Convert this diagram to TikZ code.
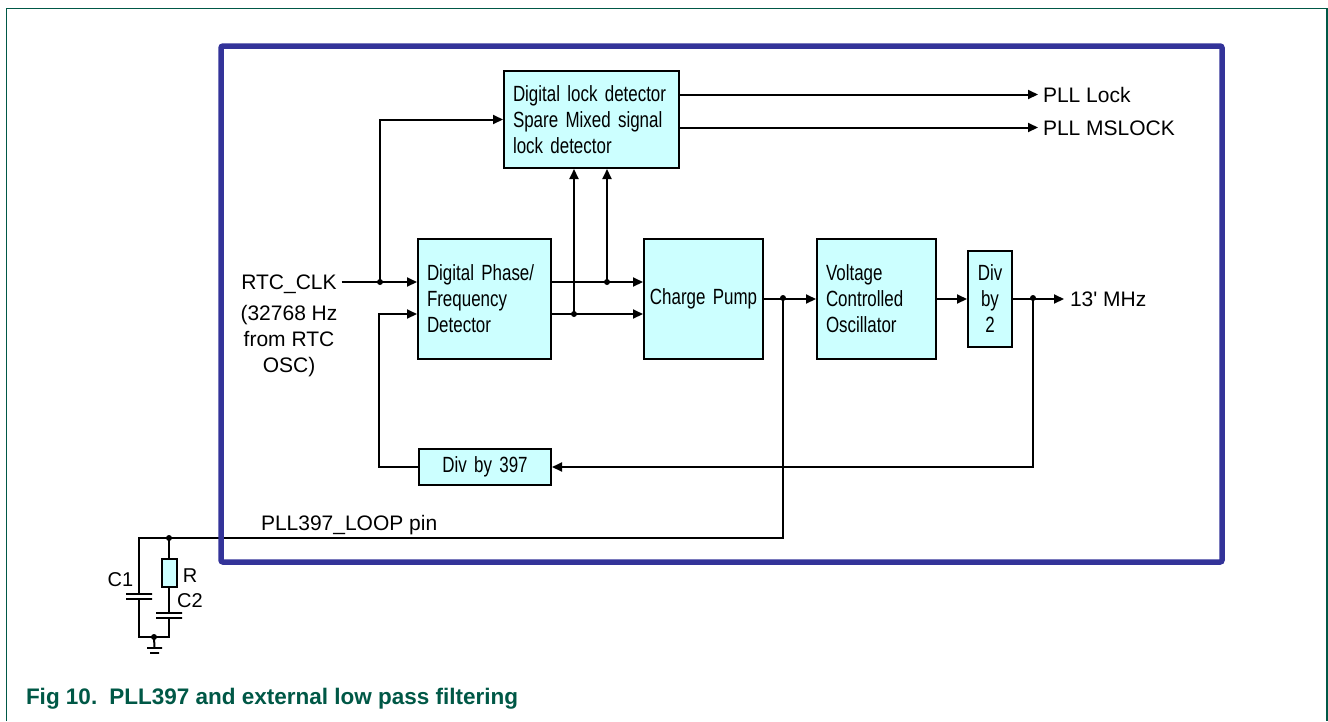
\documentclass[tikz,border=0pt]{standalone}
\usepackage{fontspec}
\setmainfont{Liberation Sans}
\newfontfamily\boxfont[FakeStretch=0.77,WordSpace=0.8]{Liberation Sans}
\usepackage{tikz}
\usetikzlibrary{arrows.meta}
\definecolor{boxcyan}{RGB}{204,255,255}
\definecolor{frameblue}{RGB}{51,51,153}
\definecolor{figgreen}{RGB}{0,88,70}

\begin{document}
\begin{tikzpicture}[
        x=1pt, y=-1pt, line width=2pt,
        fixedrect/.style={rectangle,draw,fill=boxcyan,anchor=north west,inner xsep=9pt,inner ysep=0pt,align=left,font=\boxfont\fontsize{22}{26}\selectfont},
        sig/.style={-{Triangle[length=10pt,width=9pt]}},
        lbl/.style={inner sep=0pt,text height=15pt,text depth=0pt,font=\fontsize{21}{26}\selectfont},
        jdot/.style={circle,fill=black,inner sep=0pt,minimum size=6pt},
        plate/.style={rectangle,draw,inner sep=0pt,minimum height=0pt,minimum width=26pt},
        ]
        \useasboundingbox (0,0) rectangle (1328,721);
        \draw[figgreen,line width=1.5pt] (6.5,721) |- (1327,8.5) -- (1327,721);

        % blocks
        \node[fixedrect, minimum height=97pt, text width=157pt](det) at (503,70){Digital lock detector\\Spare Mixed signal\\lock detector};
        \node[fixedrect, minimum height=120pt, text width=115pt](pfd) at (417,238){Digital Phase/\\Frequency\\Detector};
        \node[fixedrect, minimum height=120pt, text width=115pt, inner xsep=2pt, align=center](cp) at (643,238){Charge Pump};
        \node[fixedrect, minimum height=120pt, text width=101pt](vco) at (816,238){Voltage\\Controlled\\Oscillator};
        \node[fixedrect, minimum height=96pt, text width=30pt, inner xsep=7pt, align=center](div2) at (967,250){Div\\by\\2};
        \node[fixedrect, minimum height=36pt, text width=114pt, align=center](div397) at (418,448){Div by 397};

        % labels
        \node[lbl, inner xsep=4pt](rtc) at (289,282){RTC\_CLK};
        \node[inner sep=0pt, anchor=north, align=center, font=\fontsize{21}{26}\selectfont](rtcnote) at (289,304){(32768 Hz\\from RTC\\OSC)};
        \node[lbl, anchor=west, inner xsep=4pt](lock) at (1038,94.5){PLL Lock};
        \node[lbl, anchor=west, inner xsep=4pt](mslock) at (1038,127.5){PLL MSLOCK};
        \node[lbl, anchor=west, inner xsep=5pt](mhz) at (1064,299){13\textquotesingle{} MHz};
        \node[lbl, anchor=west](loop) at (260,522.5){PLL397\_LOOP pin};

        \coordinate (rowa) at (0,282);
        \coordinate (rowb) at (0,314);
        \coordinate (jclk) at (380,282);
        \coordinate (ja) at (607,282);
        \coordinate (jb) at (574,314);
        \coordinate (jcp) at (783,298);
        \coordinate (jout) at (1033,298);
        \coordinate (jloop) at (169,538);
        \coordinate (jgnd) at (154,637);

        % clock and feedback into the detector
        \draw (rtc.east) -- (jclk);
        \draw[sig] (jclk) -- (pfd.west |- rowa);
        \draw[sig] (jclk) |- (det.west);
        \draw[sig] (div397.west) -| (379,314) -- (pfd.west |- rowb);
        \draw[sig] (pfd.east |- rowa) -- (cp.west |- rowa);
        \draw[sig] (pfd.east |- rowb) -- (cp.west |- rowb);
        \draw[sig] (ja) -- (det.south -| ja);
        \draw[sig] (jb) -- (det.south -| jb);
        \draw[sig] (det.east |- lock) -- (lock.west);
        \draw[sig] (det.east |- mslock) -- (mslock.west);

        % forward path
        \draw[sig] (cp.east) -- (vco.west);
        \draw[sig] (vco.east) -- (div2.west);
        \draw[sig] (div2.east) -- (mhz.west);
        \draw[sig] (jout) |- (div397.east);

        % external filter
        \node[rectangle,draw,fill=boxcyan,inner sep=0pt,minimum width=15pt,minimum height=28pt](res) at (169,573){};
        \node[plate](c1a) at (139,594){};
        \node[plate](c1b) at (139,599){};
        \node[plate](c2a) at (169,613){};
        \node[plate](c2b) at (169,618){};
        \node[plate, minimum width=15pt](gnda) at (154.5,648){};
        \node[plate, minimum width=9pt](gndb) at (154.5,653){};
        \draw (jcp) |- (jloop) -| (c1a);
        \draw (jloop) -- (res.north);
        \draw (res.south) -- (c2a);
        \draw (c1b) |- (jgnd) -| (c2b);
        \draw (jgnd) -- (gnda);
        \node[lbl, font=\fontsize{20}{24}\selectfont](c1lbl) at (120.5,579){C1};
        \node[lbl, font=\fontsize{20}{24}\selectfont](rlbl) at (190,575){R};
        \node[lbl, font=\fontsize{20}{24}\selectfont](c2lbl) at (190,600){C2};

        \foreach \j in {jclk,ja,jb,jcp,jout,jloop,jgnd}
            \node[jdot] at (\j){};

        \draw[frameblue, line width=5.5pt, rounded corners=2pt] (221,46) rectangle (1222,562);

        \node[anchor=west, inner sep=0pt, text=figgreen, font=\bfseries\fontsize{22.5}{26}\selectfont](caption) at (25,699){Fig 10.\hspace{12pt}PLL397 and external low pass filtering};
\end{tikzpicture}
\end{document}
